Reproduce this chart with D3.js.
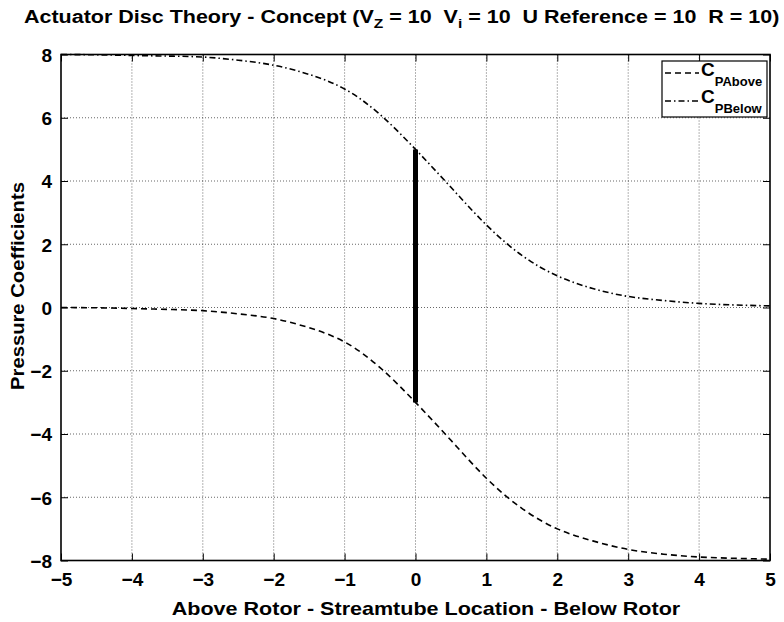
<!DOCTYPE html>
<html>
<head>
<meta charset="utf-8">
<style>
  html, body { margin: 0; padding: 0; background: #fff; }
  svg { display: block; }
  text { font-family: "Liberation Sans", Arial, sans-serif; font-weight: bold; fill: #000; white-space: pre; }
  .grid line { stroke: #000; stroke-width: 0.6; stroke-dasharray: 1,2; }
</style>
</head>
<body>
<svg width="784" height="622"></svg>
<script src="https://d3js.org/d3.v7.min.js"></script>
<script>

// streamtube locations
var xs = [-5, -4.5, -4, -3.5, -3, -2.5, -2, -1.5, -1, -0.5, 0, 0.5, 1, 1.5, 2, 2.5, 3, 3.5, 4, 4.5, 5];

// pressure coefficient, above
var cpAbove = [0, -0.01, -0.03, -0.06, -0.1, -0.2, -0.35, -0.64, -1.09, -1.9, -3.0,
               -4.2, -5.4, -6.35, -7.0, -7.38, -7.65, -7.8, -7.89, -7.93, -7.96];

// pressure coefficient, below
var cpBelow = [8, 7.99, 7.97, 7.95, 7.92, 7.82, 7.66, 7.37, 6.91, 6.1, 5.0,
               3.8, 2.61, 1.65, 1.0, 0.6, 0.35, 0.22, 0.13, 0.08, 0.05];

// disc jump at x = 0
var disc = [{x: 0, y: -3}, {x: 0, y: 5}];

var xTicks = [-5, -4, -3, -2, -1, 0, 1, 2, 3, 4, 5];
var yTicks = [-8, -6, -4, -2, 0, 2, 4, 6, 8];

var svg = d3.select("svg");
var pL = 61, pR = 770, pT = 54.5, pB = 560.5;

var x = d3.scaleLinear().domain([-5, 5]).range([pL, pR]);
var y = d3.scaleLinear().domain([-8, 8]).range([pB, pT]);

// grid
var grid = svg.append("g").attr("class", "grid");
grid.selectAll(".gx").data(xTicks.slice(1, -1)).enter().append("line")
    .attr("x1", d => x(d)).attr("x2", d => x(d))
    .attr("y1", pT).attr("y2", pB);
grid.selectAll(".gy").data(yTicks.slice(1, -1)).enter().append("line")
    .attr("x1", pL).attr("x2", pR)
    .attr("y1", d => y(d)).attr("y2", d => y(d));

// axes, ticks inward
var fmt = d3.format("d");
var xb = svg.append("g").attr("transform", "translate(0," + pB + ")")
    .call(d3.axisBottom(x).tickValues(xTicks).tickFormat(fmt).tickSizeInner(-7).tickSizeOuter(0).tickPadding(12));
var xt = svg.append("g").attr("transform", "translate(0," + pT + ")")
    .call(d3.axisTop(x).tickValues(xTicks).tickFormat("").tickSizeInner(-7).tickSizeOuter(0));
var yl = svg.append("g").attr("transform", "translate(" + pL + ",0)")
    .call(d3.axisLeft(y).tickValues(yTicks).tickFormat(fmt).tickSizeInner(-7).tickSizeOuter(0).tickPadding(9));
var yr = svg.append("g").attr("transform", "translate(" + pR + ",0)")
    .call(d3.axisRight(y).tickValues(yTicks).tickFormat("").tickSizeInner(-7).tickSizeOuter(0));

[xb, xt, yl, yr].forEach(function(g) {
  g.select(".domain").remove();
  g.selectAll(".tick line").attr("stroke", "#000").attr("stroke-width", 1);
  g.selectAll("text").attr("font-size", 19).attr("fill", "#000")
    .attr("font-family", "Liberation Sans, Arial, sans-serif").attr("font-weight", "bold");
});
yl.selectAll("text").attr("dy", "0.36em");

svg.append("rect")
    .attr("x", pL).attr("y", pT)
    .attr("width", pR - pL).attr("height", pB - pT)
    .attr("fill", "none").attr("stroke", "#000").attr("stroke-width", 1.6);

// curves
var line = d3.line()
    .x(function(d, i) { return x(xs[i]); })
    .y(function(d) { return y(d); })
    .curve(d3.curveNatural);

svg.append("path").datum(cpAbove)
    .attr("d", line)
    .attr("fill", "none").attr("stroke", "#000").attr("stroke-width", 1.6)
    .attr("stroke-dasharray", "6,4");

svg.append("path").datum(cpBelow)
    .attr("d", line)
    .attr("fill", "none").attr("stroke", "#000").attr("stroke-width", 1.6)
    .attr("stroke-dasharray", "6,3,1.5,3");

svg.append("line")
    .attr("x1", x(disc[0].x)).attr("x2", x(disc[1].x))
    .attr("y1", y(disc[0].y)).attr("y2", y(disc[1].y))
    .attr("stroke", "#000").attr("stroke-width", 5);

// legend
var lg = svg.append("g");
lg.append("rect")
    .attr("x", 662).attr("y", 61).attr("width", 105).attr("height", 56)
    .attr("fill", "#fff").attr("stroke", "#000").attr("stroke-width", 1.2);

var legendItems = [
  {sub: "PAbove", dash: "6,4", ly: 73, ty: 76},
  {sub: "PBelow", dash: "6,3,1.5,3", ly: 101, ty: 103}
];
legendItems.forEach(function(d) {
  lg.append("line")
      .attr("x1", 665).attr("x2", 699).attr("y1", d.ly).attr("y2", d.ly)
      .attr("stroke", "#000").attr("stroke-width", 1.6).attr("stroke-dasharray", d.dash);
  var t = lg.append("text").attr("x", 701).attr("y", d.ty).attr("font-size", 19);
  t.append("tspan").text("C");
  t.append("tspan").attr("font-size", 13).attr("dy", 10).text(d.sub);
});

// title
var title = svg.append("text").attr("x", 24).attr("y", 23).attr("font-size", 18);
title.append("tspan").text("Actuator Disc Theory - Concept (V");
title.append("tspan").attr("font-size", 13).attr("dy", 5).text("Z");
title.append("tspan").attr("dy", -5).text(" = 10  V");
title.append("tspan").attr("font-size", 13).attr("dy", 5).text("i");
title.append("tspan").attr("dy", -5).text(" = 10  U Reference = 10  R = 10)");

// fit title width
var tw = title.node().getComputedTextLength();
title.attr("transform", "translate(24,0) scale(" + (756 / tw) + ",1) translate(-24,0)");

// axis labels
var xlab = svg.append("text")
    .attr("x", 426).attr("y", 615).attr("text-anchor", "middle").attr("font-size", 19)
    .text("Above Rotor - Streamtube Location - Below Rotor");
var xw = xlab.node().getComputedTextLength();
xlab.attr("transform", "translate(426,0) scale(" + (509 / xw) + ",1) translate(-426,0)");

var ylab = svg.append("text")
    .attr("text-anchor", "middle").attr("font-size", 19)
    .attr("transform", "translate(24,286) rotate(-90)")
    .text("Pressure Coefficients");
var yw = ylab.node().getComputedTextLength();
ylab.attr("transform", "translate(24,286) rotate(-90) scale(" + (208 / yw) + ",1)");

</script>
</body>
</html>
